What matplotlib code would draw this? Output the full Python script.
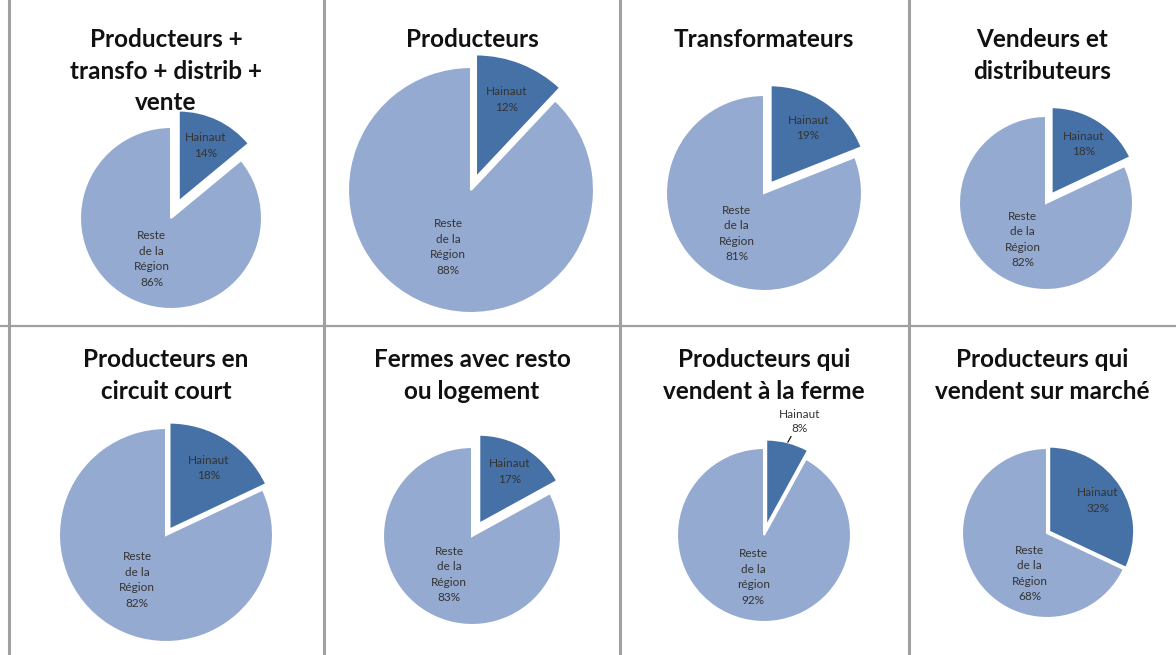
import numpy as np
import matplotlib.pyplot as plt
from matplotlib.lines import Line2D

# Data
titles = [
    "Producteurs +\ntransfo + distrib +\nvente",
    "Producteurs",
    "Transformateurs",
    "Vendeurs et\ndistributeurs",
    "Producteurs en\ncircuit court",
    "Fermes avec resto\nou logement",
    "Producteurs qui\nvendent à la ferme",
    "Producteurs qui\nvendent sur marché",
]
hainaut = [14, 12, 19, 18, 18, 17, 8, 32]
reste = [86, 88, 81, 82, 82, 83, 92, 68]
reste_names = ["Reste\nde la\nRégion"] * 6 + ["Reste\nde la\nrégion", "Reste\nde la\nRégion"]

# Layout (pixels)
W, H = 1176, 655
pie_px = [(171, 218, 91), (471, 190, 123), (764, 193, 98), (1046, 203, 87),
          (166, 535, 107), (472, 536, 89), (764, 535, 87), (1047, 533, 85)]
explode = [0.2, 0.11, 0.12, 0.12, 0.06, 0.16, 0.1, 0.03]
cell_cx = [166, 472, 764, 1042]
title_top = [28, 348]

c_hain = "#4671a6"
c_rest = "#95aad0"
c_txt = "#333333"

fig = plt.figure(figsize=(W / 100, H / 100), dpi=100)
fig.patch.set_facecolor("white")

# grid lines between panels
for x in [9, 324, 620, 909]:
    fig.add_artist(Line2D([x / W, x / W], [0, 1], color="#a0a0a0", lw=2.2))
fig.add_artist(Line2D([0, 1], [1 - 326 / H, 1 - 326 / H], color="#a0a0a0", lw=1.6))

for i in range(8):
    row, col = divmod(i, 4)
    fig.text(cell_cx[col] / W, 1 - title_top[row] / H, titles[i], ha="center", va="top",
             fontsize=17.5, fontweight="bold", family="Lato", linespacing=1.45, color="#111111")

    cx, cy, r = pie_px[i]
    ax = fig.add_axes([(cx - r) / W, 1 - (cy + r) / H, 2 * r / W, 2 * r / H])
    wedges, _ = ax.pie([hainaut[i], reste[i]], startangle=90, counterclock=False,
                       explode=[explode[i], 0], colors=[c_hain, c_rest],
                       wedgeprops=dict(edgecolor="white", linewidth=1.5))
    ax.set_xlim(-1, 1)
    ax.set_ylim(-1, 1)
    for w in wedges:
        w.set_clip_on(False)

    labels = ["Hainaut\n%d%%" % hainaut[i], "%s\n%d%%" % (reste_names[i], reste[i])]
    for k, (w, txt) in enumerate(zip(wedges, labels)):
        ang = np.radians((w.theta1 + w.theta2) / 2)
        x0, y0 = w.center
        if k == 0 and i == 6:
            # small slice: label outside with leader line
            ax.annotate(txt, xy=(x0 + 1.0 * np.cos(ang), y0 + 1.0 * np.sin(ang)),
                        xytext=(x0 + 0.42 * np.cos(ang) + 0.28, y0 + 1.25 * np.sin(ang)),
                        ha="center", va="center", fontsize=8.5, family="Lato", color=c_txt,
                        linespacing=1.3, annotation_clip=False,
                        arrowprops=dict(arrowstyle="-", color="black", lw=0.8,
                                        shrinkA=0, shrinkB=0))
            continue
        d = 0.68 if k == 0 else 0.5
        if k == 1 and i == 7:
            # Excel put this label lower in the big slice
            ang = np.radians(w.theta2 - 0.36 * (w.theta2 - w.theta1))
            d = 0.52
        ax.text(x0 + d * np.cos(ang), y0 + d * np.sin(ang), txt, ha="center", va="center",
                fontsize=8.5, family="Lato", color=c_txt, linespacing=1.5)

fig.savefig("out.png", dpi=100)
